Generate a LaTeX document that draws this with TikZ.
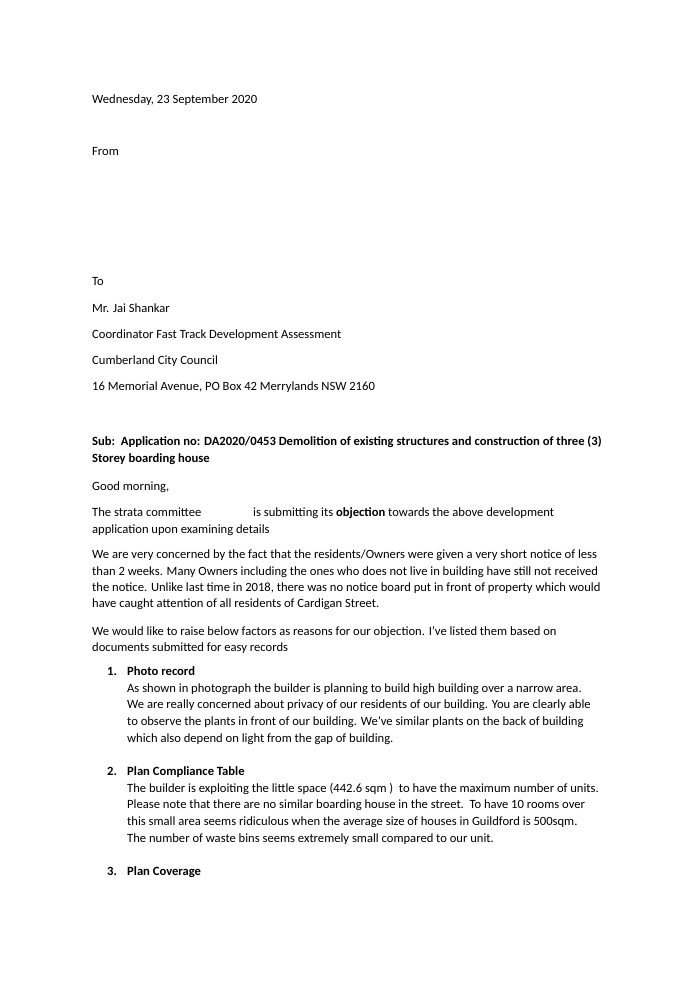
\documentclass[tikz,border=0pt]{standalone}
\usepackage{fontspec}
\setmainfont{Carlito}
\usetikzlibrary{positioning}

\begin{document}
\begin{tikzpicture}[
    x=1pt, y=-1pt,
    line/.style={anchor=base west, inner sep=0pt, font=\fontsize{12.6}{15}\selectfont},
    head/.style={line, font=\fontsize{12.6}{15}\selectfont\bfseries}
  ]
  \useasboundingbox (0,0) rectangle (694,990);

  % header
  \node (date) [line] at (92,103) {Wednesday, 23 September 2020};
  \node (from) [line] at (92,155) {From};
  \node (to) [line] at (92,285) {To};
  \node (name) [line] at (92,312) {Mr. Jai Shankar};
  \node (role) [line] at (92,338) {Coordinator Fast Track Development Assessment};
  \node (council) [line] at (92,364) {Cumberland City Council};
  \node (addr) [line] at (92,390) {16 Memorial Avenue, PO Box 42 Merrylands NSW 2160};

  % subject
  \node (sub1) [head] at (92,445) {Sub:\ \ Application no: DA2020/0453 Demolition of existing structures and construction of three (3)};
  \node (sub2) [head] at (92,462) {Storey boarding house};
  \node (greet) [line] at (92,490) {Good morning,};

  % body
  \node (p1a) [line] at (92,516) {The strata committee};
  \node (p1b) [line] at (253,516) {is submitting its \textbf{objection} towards the above development};
  \node (p1c) [line] at (92,533) {application upon examining details};
  \node (p2a) [line] at (92,558) {We are very concerned by the fact that the residents/Owners were given a very short notice of less};
  \node (p2b) [line] at (92,575) {than 2 weeks. Many Owners including the ones who does not live in building have still not received};
  \node (p2c) [line] at (92,591) {the notice. Unlike last time in 2018, there was no notice board put in front of property which would};
  \node (p2d) [line] at (92,607) {have caught attention of all residents of Cardigan Street.};
  \node (p3a) [line] at (92,635) {We would like to raise below factors as reasons for our objection. I've listed them based on};
  \node (p3b) [line] at (92,651) {documents submitted for easy records};

  % items
  \node (n1) [head] at (107,675) {1.};
  \node (h1) [head] at (127,675) {Photo record};
  \node (i1a) [line] at (127,692) {As shown in photograph the builder is planning to build high building over a narrow area.};
  \node (i1b) [line] at (127,708) {We are really concerned about privacy of our residents of our building. You are clearly able};
  \node (i1c) [line] at (127,725) {to observe the plants in front of our building. We've similar plants on the back of building};
  \node (i1d) [line] at (127,742) {which also depend on light from the gap of building.};

  \node (n2) [head] at (107,775) {2.};
  \node (h2) [head] at (127,775) {Plan Compliance Table};
  \node (i2a) [line] at (127,792) {The builder is exploiting the little space (442.6 sqm )\ \ to have the maximum number of units.};
  \node (i2b) [line] at (127,808) {Please note that there are no similar boarding house in the street.\ \ To have 10 rooms over};
  \node (i2c) [line] at (127,825) {this small area seems ridiculous when the average size of houses in Guildford is 500sqm.};
  \node (i2d) [line] at (127,842) {The number of waste bins seems extremely small compared to our unit.};

  \node (n3) [head] at (107,875) {3.};
  \node (h3) [head] at (127,875) {Plan Coverage};
\end{tikzpicture}
\end{document}
